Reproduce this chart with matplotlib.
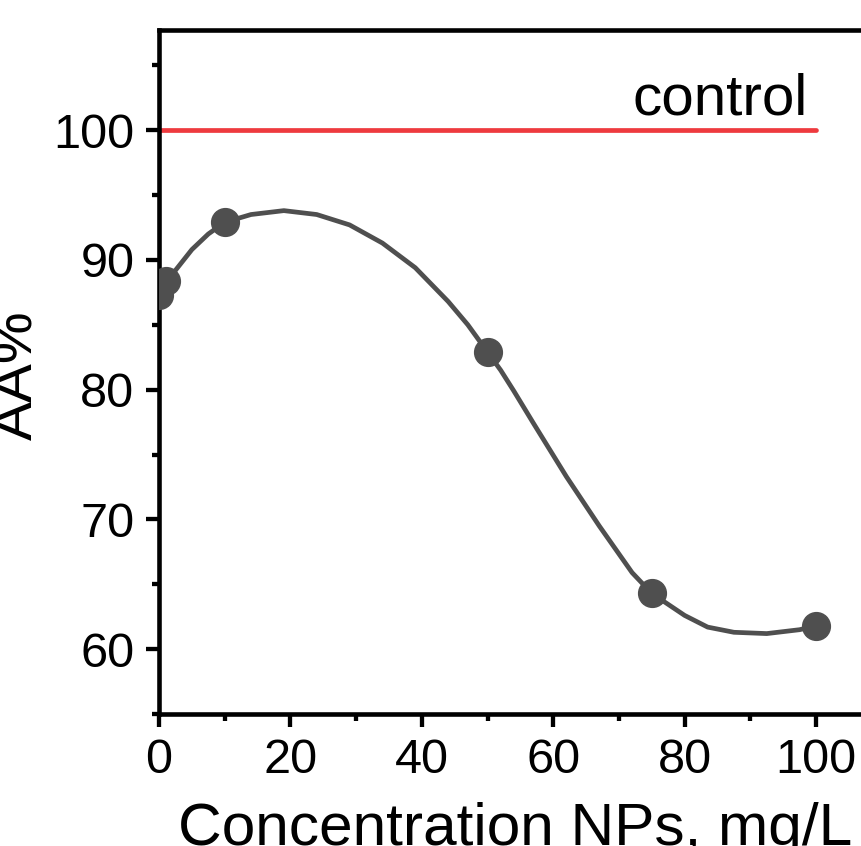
import matplotlib
matplotlib.use("Agg")
from matplotlib import pyplot as plt
from matplotlib.ticker import MultipleLocator

# measured points
conc = [0, 1, 10, 50, 75, 100]
aa = [87.3, 88.4, 92.9, 82.9, 64.3, 61.8]

# smooth fit curve
fit_x = [0, 1, 2.5, 5, 7.5, 10, 14, 19, 24, 29, 34, 39, 44, 47, 50, 52, 54, 57,
         62, 67, 72, 75, 80, 83.5, 87.5, 92.5, 97.5, 100]
fit_y = [87.3, 88.4, 89.2, 90.8, 92.0, 92.9, 93.5, 93.8, 93.5, 92.7, 91.3, 89.4,
         86.8, 85.0, 82.9, 81.5, 79.9, 77.4, 73.3, 69.5, 65.9, 64.3, 62.6, 61.7,
         61.3, 61.2, 61.5, 61.8]

# control level
control_x = [0, 100]
control_y = [100, 100]

plt.rcParams['font.family'] = ['Liberation Sans', 'DejaVu Sans']

fig = plt.figure(figsize=(8.62, 8.46), dpi=100)
ax = fig.add_axes([0.1845, 0.156, 0.8384, 0.8085])

grau = '#4f4f4f'
ax.plot(control_x, control_y, color='#ee3a3e', lw=3.4, solid_capstyle='round', zorder=2)
ax.plot(fit_x, fit_y, color=grau, lw=3.4, zorder=3)
ax.plot(conc, aa, 'o', color=grau, ms=20, mec=grau, zorder=4)

ax.text(98.8, 101.2, 'control', fontsize=42, ha='right', va='baseline')

ax.set_xlim(0, 110)
ax.set_ylim(55, 107.72)

ax.xaxis.set_major_locator(MultipleLocator(20))
ax.xaxis.set_minor_locator(MultipleLocator(10))
ax.yaxis.set_major_locator(MultipleLocator(10))
ax.yaxis.set_minor_locator(MultipleLocator(5))

for s in ['left', 'bottom', 'top']:
    ax.spines[s].set_linewidth(3.3)
ax.spines['right'].set_visible(False)

ax.tick_params(which='both', top=False, right=False, width=3.1, labelsize=35)
ax.tick_params(axis='x', which='major', length=9.5, pad=8)
ax.tick_params(axis='y', which='major', length=9.7, pad=8)
ax.tick_params(which='minor', length=5)

ax.set_xlabel('Concentration NPs, mg/L', fontsize=43.5)
ax.xaxis.label.set_va('baseline')
ax.xaxis.set_label_coords(0.4926, -0.1915)
ax.set_ylabel('AA%', fontsize=42)
ax.yaxis.set_label_coords(-0.158, 0.4956)

fig.savefig('out.png', dpi=100)
